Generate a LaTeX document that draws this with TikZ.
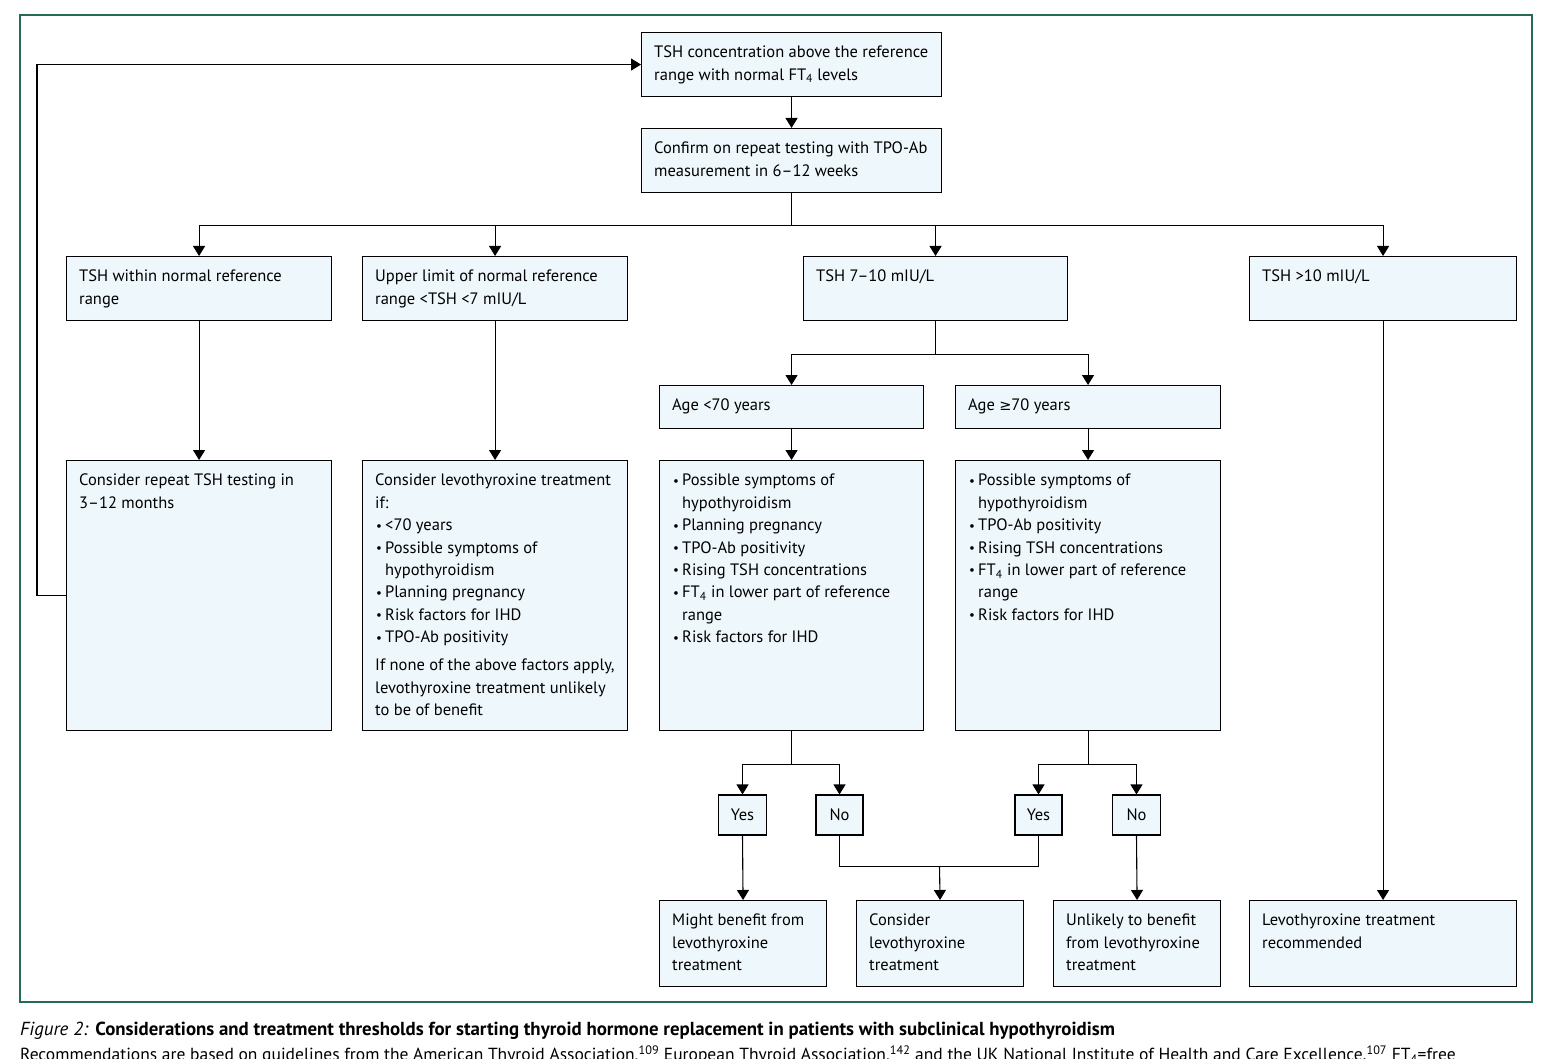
\documentclass[tikz,border=0pt]{standalone}
\usepackage{fontspec}
\setmainfont{PT Sans}
\newfontfamily\symfont{DejaVu Sans}
\usetikzlibrary{arrows.meta,calc}
\definecolor{boxfill}{HTML}{EEF7FB}
\definecolor{framegreen}{RGB}{38,108,80}
\newcommand{\bl}{\makebox[10pt][l]{\hspace{1pt}\raisebox{0.6pt}{\fontsize{13}{13}\selectfont•}}}
\newcommand{\ind}{\hspace*{10pt}}
\newcommand{\boxat}[6]{%
  \node[box, anchor=north west, minimum width={(#4-#2)*1pt}, minimum height={(#5-#3)*1pt}] (#1) at (#2,#3) {};
  \node[txt, anchor=north west] (#1t) at (#2+13,#3+14) {#6};
}
\tikzset{
  box/.style={draw=black, fill=boxfill, line width=1.1pt, inner sep=0pt, rectangle},
  txt/.style={inner sep=0pt, align=left, font=\fontsize{16.5}{22.4}\selectfont},
  arr/.style={line width=1.1pt, -{Triangle[width=12pt,length=10pt]}},
  ln/.style={line width=1.1pt}
}
\begin{document}
\begin{tikzpicture}[x=1pt,y=-1pt]
\useasboundingbox (0,0) rectangle (1553,1059);
\fill[white] (0,0) rectangle (1553,1059);
\draw[framegreen, line width=1.2pt] (20,15) rectangle (1532,1002);

\boxat{top}{641}{32}{941}{96}{TSH concentration above the reference\\range with normal FT\textsubscript{4} levels}
\boxat{conf}{641}{128}{941}{192}{Confirm on repeat testing with TPO-Ab\\measurement in 6–12 weeks}

\boxat{A}{66}{256}{331}{320}{TSH within normal reference\\range}
\boxat{B}{362}{256}{627}{320}{Upper limit of normal reference\\range <TSH <7 mIU/L}
\boxat{C}{803}{256}{1067}{320}{TSH 7–10 mIU/L}
\boxat{D}{1249}{256}{1516}{320}{TSH >10 mIU/L}

\boxat{G}{659}{385}{923}{428}{Age <70 years}
\boxat{H}{955}{385}{1220}{428}{Age {\symfont\fontsize{14.5}{22}\selectfont ≥}70 years}

\boxat{E}{66}{460}{331}{730}{Consider repeat TSH testing in\\3–12 months}
\boxat{F}{362}{460}{627}{730}{Consider levothyroxine treatment\\if:\\\bl<70 years\\\bl Possible symptoms of\\\ind hypothyroidism\\\bl Planning pregnancy\\\bl Risk factors for IHD\\\bl TPO-Ab positivity\\[5.5pt]If none of the above factors apply,\\levothyroxine treatment unlikely\\to be of benefit}
\boxat{I}{659}{460}{923}{730}{\bl Possible symptoms of\\\ind hypothyroidism\\\bl Planning pregnancy\\\bl TPO-Ab positivity\\\bl Rising TSH concentrations\\\bl FT\textsubscript{4} in lower part of reference\\\ind range\\\bl Risk factors for IHD}
\boxat{J}{955}{460}{1220}{730}{\bl Possible symptoms of\\\ind hypothyroidism\\\bl TPO-Ab positivity\\\bl Rising TSH concentrations\\\bl FT\textsubscript{4} in lower part of reference\\\ind range\\\bl Risk factors for IHD}

\node[box, minimum width=48pt, minimum height=40pt, font=\fontsize{16.5}{22}\selectfont] (Y1) at (742.5,815) {Yes};
\node[box, minimum width=47pt, minimum height=40pt, font=\fontsize{16.5}{22}\selectfont] (N1) at (839.5,815) {No};
\node[box, minimum width=47pt, minimum height=40pt, font=\fontsize{16.5}{22}\selectfont] (Y2) at (1038.5,815) {Yes};
\node[box, minimum width=48pt, minimum height=40pt, font=\fontsize{16.5}{22}\selectfont] (N2) at (1136.5,815) {No};

\boxat{K}{659}{900}{826}{986}{Might benefit from\\levothyroxine\\treatment}
\boxat{L}{856}{900}{1023}{986}{Consider\\levothyroxine\\treatment}
\boxat{M}{1053}{900}{1220}{986}{Unlikely to benefit\\from levothyroxine\\treatment}
\boxat{N}{1249}{900}{1516}{986}{Levothyroxine treatment\\recommended}

% connectors
\draw[arr] (top) -- (conf);
\draw[arr] (conf.south) -- ++(0,32) -| (A.north);
\draw[arr] (conf.south) -- ++(0,32) -| (B.north);
\draw[arr] (conf.south) -- ++(0,32) -| (C.north);
\draw[arr] (conf.south) -- ++(0,32) -| (D.north);
\draw[arr] (A) -- (E);
\draw[arr] (B) -- (F);
\draw[arr] (C.south) -- ++(0,33) -| (G.north);
\draw[arr] (C.south) -- ++(0,33) -| (H.north);
\draw[arr] (G) -- (I);
\draw[arr] (H) -- (J);
\draw[arr] (I.south) -- ++(0,33) -| (Y1.north);
\draw[arr] (I.south) -- ++(0,33) -| (N1.north);
\draw[arr] (J.south) -- ++(0,33) -| (Y2.north);
\draw[arr] (J.south) -- ++(0,33) -| (N2.north);
\draw[arr] (Y1.south) -- (K.north);
\draw[arr] (N2.south) -- (M.north);
\draw[ln] (N1.south) -- ++(0,31) -| (Y2.south);
\coordinate (mj) at (939.5,866);
\draw[arr] (mj) -- (L.north);
\draw[arr] (D) -- (N);
\draw[arr] (E.west) -- ++(-29,0) |- (top.west);

% caption
\node[anchor=west, inner sep=0pt, font=\fontsize{18.85}{20}\selectfont] (cap1) at (20,1031) {\textit{Figure 2:} \textbf{Considerations and treatment thresholds for starting thyroid hormone replacement in patients with subclinical hypothyroidism}};
\node[anchor=west, inner sep=0pt, font=\fontsize{17.5}{20}\selectfont] (cap2) at (20,1055) {Recommendations are based on guidelines from the American Thyroid Association,\textsuperscript{109} European Thyroid Association,\textsuperscript{142} and the UK National Institute of Health and Care Excellence.\textsuperscript{107} FT\textsubscript{4}=free};
\end{tikzpicture}
\end{document}
